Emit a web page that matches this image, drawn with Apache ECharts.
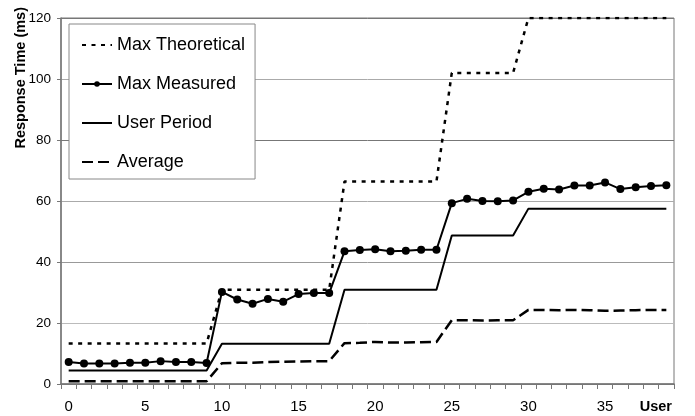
<!DOCTYPE html>
<html>
<head>
<meta charset="utf-8">
<script src="https://cdn.jsdelivr.net/npm/echarts@6/dist/echarts.min.js"></script>
<style>
  html, body { margin: 0; padding: 0; background: #fff; }
  #chart { width: 695px; height: 416px; }
</style>
</head>
<body>
<div id="chart"></div>
<script>
const users = ["0", "1", "2", "3", "4", "5", "6", "7", "8", "9",
  "10", "11", "12", "13", "14", "15", "16", "17", "18", "19",
  "20", "21", "22", "23", "24", "25", "26", "27", "28", "29",
  "30", "31", "32", "33", "34", "35", "36", "37", "38", "39"];

const maxTheoretical = [13.3, 13.3, 13.3, 13.3, 13.3, 13.3, 13.3, 13.3, 13.3, 13.3,
  30.9, 30.9, 30.9, 30.9, 30.9, 30.9, 30.9, 30.9,
  66.4, 66.4, 66.4, 66.4, 66.4, 66.4, 66.4,
  102, 102, 102, 102, 102,
  120, 120, 120, 120, 120, 120, 120, 120, 120, 120];

const maxMeasured = [7.2, 6.7, 6.7, 6.7, 7.0, 7.0, 7.5, 7.2, 7.2, 6.9,
  30.2, 27.7, 26.3, 27.9, 27.0, 29.5, 29.8, 29.8,
  43.5, 43.9, 44.2, 43.5, 43.7, 44.0, 44.0,
  59.3, 60.7, 60.0, 59.9, 60.2,
  63.0, 64.0, 63.8, 65.1, 65.1, 66.1, 63.9, 64.5, 64.9, 65.2];

const userPeriod = [4.4, 4.4, 4.4, 4.4, 4.4, 4.4, 4.4, 4.4, 4.4, 4.4,
  13.2, 13.2, 13.2, 13.2, 13.2, 13.2, 13.2, 13.2,
  30.9, 30.9, 30.9, 30.9, 30.9, 30.9, 30.9,
  48.7, 48.7, 48.7, 48.7, 48.7,
  57.5, 57.5, 57.5, 57.5, 57.5, 57.5, 57.5, 57.5, 57.5, 57.5];

const average = [0.9, 0.9, 0.9, 0.9, 0.9, 0.9, 0.9, 0.9, 0.9, 0.9,
  6.8, 7.0, 7.0, 7.2, 7.3, 7.4, 7.5, 7.5,
  13.4, 13.5, 13.8, 13.6, 13.6, 13.7, 13.8,
  20.9, 20.9, 20.8, 20.9, 20.9,
  24.3, 24.3, 24.2, 24.3, 24.2, 24.0, 24.1, 24.2, 24.3, 24.3];

const font = "'Liberation Sans', Arial, Helvetica, sans-serif";

// hide the default circle that echarts puts on line legend icons
const noDot = { color: "rgba(0,0,0,0)", borderWidth: 0 };

const chart = echarts.init(document.getElementById("chart"), null, { renderer: "canvas" });

chart.setOption({
  animation: false,
  backgroundColor: "#fff",
  textStyle: { fontFamily: font, color: "#000" },
  grid: {
    left: 61, right: 21, top: 18, bottom: 32,
    show: true, borderColor: "#777", borderWidth: 1,
    containLabel: false, outerBoundsMode: "none"
  },
  legend: {
    orient: "vertical",
    left: 69, top: 24,
    padding: [12, 10, 8, 12],
    backgroundColor: "#fff",
    borderColor: "#888",
    borderWidth: 1,
    itemWidth: 30,
    itemHeight: 7,
    itemGap: 21,
    selectedMode: false,
    textStyle: { fontFamily: font, fontSize: 18, lineHeight: 18, color: "#000" },
    data: [
      { name: "Max Theoretical", itemStyle: noDot },
      { name: "Max Measured" },
      { name: "User Period", itemStyle: noDot },
      { name: "Average", itemStyle: noDot }
    ]
  },
  xAxis: {
    type: "category",
    data: users,
    boundaryGap: true,
    name: "User",
    nameLocation: "end",
    nameGap: -2,
    nameMoveOverlap: false,
    nameTextStyle: {
      fontFamily: font, fontSize: 14.5, fontWeight: "bold", color: "#000",
      align: "right", verticalAlign: "top", padding: [15, 0, 0, 0]
    },
    axisLine: { lineStyle: { color: "#777", width: 1.5 } },
    axisTick: { show: true, interval: 0, length: 5, lineStyle: { color: "#777" } },
    axisLabel: { interval: 4, margin: 15, fontSize: 15, color: "#000", fontFamily: font },
    splitLine: { show: false }
  },
  yAxis: {
    type: "value",
    min: 0, max: 120, interval: 20,
    name: "Response Time (ms)",
    nameLocation: "end",
    nameRotate: 90,
    nameGap: 11,
    nameMoveOverlap: false,
    nameTextStyle: {
      fontFamily: font, fontSize: 14.5, fontWeight: "bold", color: "#000",
      align: "right", verticalAlign: "bottom", padding: [0, 0, 33, 0]
    },
    axisLine: { show: true, lineStyle: { color: "#777", width: 1.5 } },
    axisTick: { show: true, length: 4, lineStyle: { color: "#777" } },
    axisLabel: { margin: 10, fontSize: 13.5, color: "#000", fontFamily: font },
    splitLine: { show: true, lineStyle: { color: ["#777", "#bbb", "#999", "#aaa", "#777", "#aaa", "#777"], width: 1 } }
  },
  series: [
    {
      name: "Max Theoretical",
      type: "line",
      data: maxTheoretical,
      symbol: "none",
      color: "#000",
      lineStyle: { color: "#000", width: 2.5, type: [4, 5.5] },
      z: 3
    },
    {
      name: "Max Measured",
      type: "line",
      data: maxMeasured,
      symbol: "circle",
      symbolSize: 8,
      showSymbol: true,
      color: "#000",
      itemStyle: { color: "#000" },
      lineStyle: { color: "#000", width: 2 },
      z: 4
    },
    {
      name: "User Period",
      type: "line",
      data: userPeriod,
      symbol: "none",
      color: "#000",
      lineStyle: { color: "#000", width: 2 },
      z: 3
    },
    {
      name: "Average",
      type: "line",
      data: average,
      symbol: "none",
      color: "#000",
      lineStyle: { color: "#000", width: 2.5, type: [11, 5] },
      z: 3
    }
  ]
});
</script>
</body>
</html>
